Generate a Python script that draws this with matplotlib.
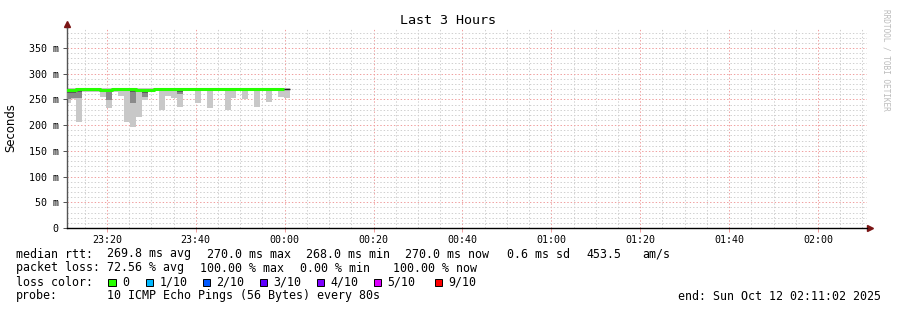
import numpy as np
import matplotlib
matplotlib.use('Agg')
import matplotlib.pyplot as plt
from matplotlib.patches import Rectangle
from matplotlib.ticker import MultipleLocator, FixedLocator, FuncFormatter

nan = np.nan

# time axis in minutes relative to 00:00, window 23:11:02 .. 02:11:02
x_start, x_end = -48.9667, 131.0333
step_start = -49.5          # first 80 s step starts 23:10:30
step_min = 80 / 60

# median rtt per step (ms), green = 0 loss
median_ms = [268, 268, 270, 270, 270, 270, 268.5, 268.5, 270, 270,
             270, 270, 268, 268, 269, 270, 270, 270, 270, 270,
             270, 270, 270, 270, 270, 270, 270, 270, 270, 270,
             270, 270, 270, 270, 270, 270, 270]
last_ms = 270   # final step, drawn dark (100% loss)

# smoke: light band low/high, darker band from dark_ms up to median
smoke_low = [244, 250, 206, 264, 264, 264, 255, 234, 264, 257,
             206, 197, 216, 249, 265, nan, 230, 257, 253, 235,
             nan, nan, 244, nan, 233, nan, nan, 230, 253, nan,
             250, nan, 235, nan, 245, nan, 255, 253]
smoke_high = [272, 272, 272, 272, 272, 272, 272, 272, 272, 272,
              272, 272, 272, 272, 272, nan, 272, 272, 272, 272,
              nan, nan, 272, nan, 272, nan, nan, 272, 272, nan,
              272, nan, 272, nan, 272, nan, 272, 272]
smoke_dark = [251, 253, 253, nan, nan, nan, nan, 249, nan, nan,
              nan, 244, nan, 255, 266, nan, nan, nan, nan, 261,
              nan, nan, nan, nan, nan, nan, nan, nan, nan, nan,
              nan, nan, nan, nan, nan, nan, nan, nan]

tick_pos = [-40, -20, 0, 20, 40, 60, 80, 100, 120]
tick_labels = ['23:20', '23:40', '00:00', '00:20', '00:40', '01:00', '01:20', '01:40', '02:00']

loss_labels = ['0', '1/10', '2/10', '3/10', '4/10', '5/10', '9/10']
loss_colors = ['#26ff00', '#00b8ff', '#0059ff', '#5e00ff', '#7e00ff', '#dd00ff', '#ff0000']

rtt_items = ['269.8 ms avg', '270.0 ms max', '268.0 ms min', '270.0 ms now', '0.6 ms sd', '453.5', 'am/s']
loss_items = ['72.56 % avg', '100.00 % max', '0.00 % min', '100.00 % now']
probe_text = '10 ICMP Echo Pings (56 Bytes) every 80s'
end_text = 'end: Sun Oct 12 02:11:02 2025'

W, H = 897, 310
mono = 'DejaVu Sans Mono'
fig = plt.figure(figsize=(W / 100, H / 100), dpi=100)
ax = fig.add_axes([67 / W, 82 / H, 800 / W, 200 / H])
ax.set_xlim(x_start, x_end)
ax.set_ylim(0, 388.9)

n = len(smoke_low)
edges = step_start + step_min * np.arange(n + 1)
low = np.array(smoke_low)
high = np.array(smoke_high)
dark = np.array(smoke_dark)
med = np.array(median_ms + [last_ms])

ax.bar(edges[:-1], high - low, width=step_min, bottom=low, align='edge',
       color='#c8c8c8', linewidth=0, zorder=2)
ax.bar(edges[:-1], med - dark, width=step_min, bottom=dark, align='edge',
       color='#8a8a8a', linewidth=0, zorder=3)
ax.bar(edges[:-1], np.minimum(med - dark, 5), width=step_min, bottom=med - np.minimum(med - dark, 5),
       align='edge', color='#5a5a5a', linewidth=0, zorder=3)

m = len(median_ms)
ax.step(edges[:m + 1], median_ms + [median_ms[-1]], where='post',
        color='#26ff00', linewidth=2.2, solid_capstyle='butt', zorder=4)
ax.hlines(last_ms, edges[m], edges[m + 1], color='#222222', linewidth=1.0, zorder=4)

# grid
ax.xaxis.set_major_locator(FixedLocator(tick_pos))
ax.xaxis.set_minor_locator(MultipleLocator(5))
ax.yaxis.set_major_locator(MultipleLocator(50))
ax.yaxis.set_minor_locator(MultipleLocator(10))
ax.set_axisbelow(True)
ax.grid(which='minor', color='#d0d0d0', linestyle=(0, (1.4, 2)), linewidth=0.72)
ax.grid(which='major', color='#f0a0a0', linestyle=(0, (1.4, 2)), linewidth=0.72)
ax.set_xticklabels(tick_labels)
ax.yaxis.set_major_formatter(FuncFormatter(lambda v, p: '0' if v == 0 else f'{v:.0f} m'))
ax.tick_params(which='minor', length=0)
ax.tick_params(axis='x', which='major', length=3, width=0.72, color='#f0a0a0', pad=2)
ax.tick_params(axis='y', which='major', length=3, width=0.72, color='#555555', pad=3)
for lab in ax.get_xticklabels() + ax.get_yticklabels():
    lab.set_family(mono)
    lab.set_fontsize(7.2)

for s in ['top', 'right']:
    ax.spines[s].set_visible(False)
ax.spines['left'].set_color('#555555')
ax.spines['left'].set_linewidth(1.0)
ax.spines['bottom'].set_color('#000000')
ax.spines['bottom'].set_linewidth(1.0)
ax.plot([0, 0], [1, 1.02], transform=ax.transAxes, clip_on=False, color='#555555', lw=1.0)
ax.plot([0], [1.022], marker='^', ms=4.5, color='#7a1414', transform=ax.transAxes, clip_on=False)
ax.plot([1.004], [0], marker='>', ms=4.5, color='#7a1414', transform=ax.transAxes, clip_on=False)

ax.set_ylabel('Seconds', fontsize=8.4, labelpad=0)
ax.yaxis.set_label_coords(-(67 - 17) / 800, 0.5)

def ftext(x, y, s, **kw):
    kw.setdefault('family', mono)
    kw.setdefault('fontsize', 8.4)
    kw.setdefault('va', 'baseline')
    fig.text(x / W, 1 - y / H, s, **kw)

ftext(447.5, 20, 'Last 3 Hours', fontsize=9.6, va='center', ha='center')
ftext(886, 60, 'RRDTOOL / TOBI OETIKER', fontsize=5.6, color='#bbbbbb',
      rotation=270, va='center', ha='center')

rtt_x = [107, 207, 306.5, 405, 507, 586.5, 642.5]
ftext(16, 257.5, 'median rtt:')
for x, s in zip(rtt_x, rtt_items):
    ftext(x, 257.5, s)

loss_x = [107, 200, 300, 393]
ftext(16, 271.5, 'packet loss:')
for x, s in zip(loss_x, loss_items):
    ftext(x, 271.5, s)

sq_x = [108.3, 146, 203, 260, 317, 374, 435]
ftext(16, 285.5, 'loss color:')
for x, lab, c in zip(sq_x, loss_labels, loss_colors):
    fig.add_artist(Rectangle((x / W, 1 - 286 / H), 7.4 / W, 7.4 / H, transform=fig.transFigure,
                             facecolor=c, edgecolor='black', linewidth=0.7))
    ftext(x + 13.5, 285.5, lab)

ftext(16, 299.5, 'probe:')
ftext(107, 299.5, probe_text)
ftext(880.5, 299.5, end_text, ha='right')

fig.savefig('out.png', dpi=100)
